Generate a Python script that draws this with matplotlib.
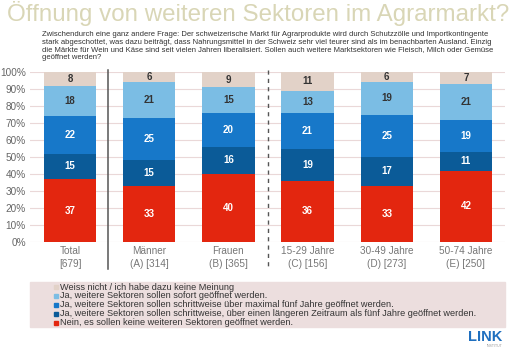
import numpy as np
import matplotlib.pyplot as plt
import matplotlib.patches as mpatches

plt.rcParams['font.family'] = ['Liberation Sans', 'DejaVu Sans']

groups = ["Total\n[679]", "Männer\n(A) [314]", "Frauen\n(B) [365]",
          "15-29 Jahre\n(C) [156]", "30-49 Jahre\n(D) [273]", "50-74 Jahre\n(E) [250]"]

nein = [37, 33, 40, 36, 33, 42]
laenger = [15, 15, 16, 19, 17, 11]
fuenf = [22, 25, 20, 21, 25, 19]
sofort = [18, 21, 15, 13, 19, 21]
weiss = [8, 6, 9, 11, 6, 7]

series = [nein, laenger, fuenf, sofort, weiss]
colors = ["#e3260f", "#0b5b98", "#1778c9", "#7bbde4", "#e2d2c8"]
txt_colors = ["white", "white", "white", "#333333", "#333333"]
legend_labels = [
    "Weiss nicht / ich habe dazu keine Meinung",
    "Ja, weitere Sektoren sollen sofort geöffnet werden.",
    "Ja, weitere Sektoren sollen schrittweise über maximal fünf Jahre geöffnet werden.",
    "Ja, weitere Sektoren sollen schrittweise, über einen längeren Zeitraum als fünf Jahre geöffnet werden.",
    "Nein, es sollen keine weiteren Sektoren geöffnet werden.",
]

W, H = 516, 349
fig = plt.figure(figsize=(W / 100, H / 100), dpi=100)

# title and question
fig.text(258 / W, 1 - 14 / H, "Öffnung von weiteren Sektoren im Agrarmarkt?",
         ha="center", va="center", fontsize=17.4, color="#d9d6b6")
question = ("Zwischendurch eine ganz andere Frage: Der schweizerische Markt für Agrarprodukte wird durch Schutzzölle und Importkontingente\n"
            "stark abgeschottet, was dazu beiträgt, dass Nahrungsmittel in der Schweiz sehr viel teurer sind als im benachbarten Ausland. Einzig\n"
            "die Märkte für Wein und Käse sind seit vielen Jahren liberalisiert. Sollen auch weitere Marktsektoren wie Fleisch, Milch oder Gemüse\n"
            "geöffnet werden?")
fig.text(42 / W, 1 - 31 / H, question, ha="left", va="top", fontsize=5.5,
         color="#333333", linespacing=1.15)

ax = fig.add_axes([30 / W, (H - 242) / H, 475 / W, 170 / H])
x = np.arange(len(groups))
bottom = np.zeros(len(groups))
for vals, c, tc in zip(series, colors, txt_colors):
    ax.bar(x, vals, bottom=bottom, width=0.66, color=c, zorder=2)
    for xi, b, v in zip(x, bottom, vals):
        ax.text(xi, b + v / 2, str(v), ha="center", va="center",
                fontsize=7, fontweight="bold", color=tc, zorder=3)
    bottom += np.array(vals)

ax.set_xlim(-0.506, 5.494)
ax.set_ylim(0, 100)
ax.set_yticks(np.arange(0, 101, 10))
ax.set_yticklabels([f"{v}%" for v in range(0, 101, 10)], fontsize=7.2, color="#666666")
ax.set_xticks(x)
ax.set_xticklabels(groups, fontsize=7.2, color="#777777", linespacing=1.3)
ax.tick_params(length=0, pad=3)
ax.grid(axis="y", color="#ead8d8", linewidth=0.8, zorder=0)
for s in ax.spines.values():
    s.set_visible(False)

# separators
ax.plot([0.48, 0.48], [101, -16], color="#555555", lw=1.1, clip_on=False)
ax.plot([2.506, 2.506], [101, -16], color="#555555", lw=1.0, ls=(0, (3, 3)), clip_on=False)

# legend box
fig.patches.append(mpatches.Rectangle((30 / W, 1 - 327 / H), 475 / W, 45 / H,
                                      transform=fig.transFigure, color="#ecdede", zorder=0))
for i, (lab, c) in enumerate(zip(legend_labels, colors[::-1])):
    yy = 1 - (287 + i * 8.9) / H
    fig.patches.append(mpatches.Rectangle((54 / W, yy - 2 / H), 4 / W, 4 / H,
                                          transform=fig.transFigure, color=c, zorder=1))
    fig.text(60 / W, yy, lab, ha="left", va="center", fontsize=6.6, color="#333333")

# logo
fig.text(502 / W, 1 - 337 / H, "LINK", ha="right", va="center", fontsize=10.5,
         fontweight="heavy", color="#1f6fbf")
fig.text(502 / W, 1 - 346 / H, "INSTITUT", ha="right", va="center", fontsize=2.5,
         color="#999999")

fig.savefig("out.png", dpi=100)
